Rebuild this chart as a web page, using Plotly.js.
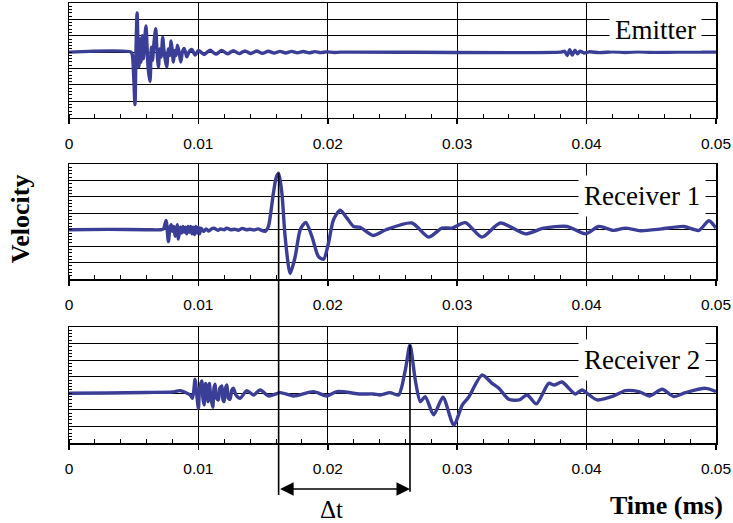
<!DOCTYPE html>
<html>
<head>
<meta charset="utf-8">
<script src="https://cdn.plot.ly/plotly-3.0.1.min.js"></script>
<style>html,body{margin:0;padding:0;background:#fff;}#chart{width:733px;height:523px;}</style>
</head>
<body>
<div id="chart"></div>
<script>
// ---- data (time in ms, velocity in arbitrary units) ----
var tickVals = [0, 0.01, 0.02, 0.03, 0.04, 0.05];
var tickText = ['0', '0.01', '0.02', '0.03', '0.04', '0.05'];
var panelNames = ['Emitter', 'Receiver 1', 'Receiver 2'];

var emitT = [0, 0.0048, 0.0049, 0.0050, 0.0051, 0.00518, 0.00526, 0.00534, 0.00541, 0.00549, 0.00557, 0.00566, 0.00576, 0.00586, 0.00595, 0.00604, 0.00612, 0.00626, 0.00636, 0.00645, 0.00657, 0.0067, 0.0068, 0.00691, 0.00702, 0.00712, 0.00724, 0.00734, 0.00745, 0.00755, 0.00768, 0.00779, 0.00789, 0.00798, 0.00807, 0.00818, 0.00828, 0.00838, 0.00851, 0.00864, 0.00876, 0.00889, 0.009, 0.0091, 0.0093, 0.00949, 0.00975, 0.01,
  0.01045, 0.0109, 0.01135, 0.0118, 0.01225, 0.0127, 0.01315, 0.0136, 0.01405, 0.0145, 0.01495, 0.0154, 0.01585, 0.0163, 0.01675, 0.0172, 0.01765, 0.0181, 0.01855, 0.019, 0.01945, 0.0199, 0.0205, 0.021,
  0.038, 0.0383, 0.0385, 0.0387, 0.0389, 0.0391, 0.0393, 0.0395, 0.0398, 0.0402, 0.041, 0.042, 0.043, 0.044, 0.045, 0.047, 0.05];
var emitV = [0, 0, -0.2, -1.5, -3.2, 0.2, 2.4, 0.3, -0.9, 0.8, -0.6, 1.0, -0.4, 0.9, 1.6, 0.2, -1.0, -1.8, 0.3, -0.5, 0.6, 1.43, 0.1, -0.9, 0.2, -0.3, 0.9, 0.1, -0.5, -0.9, 0.2, -0.2, 0.69, 0.1, -0.6, 0.1, -0.2, 0.43, 0.0, -0.6, 0.0, 0.22, 0.0, -0.29, 0.05, 0.16, -0.18, 0.1,
  -0.14, 0.12, -0.12, 0.1, -0.1, 0.09, -0.09, 0.08, -0.08, 0.07, -0.07, 0.06, -0.06, 0.05, -0.05, 0.05, -0.04, 0.04, -0.04, 0.03, -0.03, 0.02, -0.02, 0,
  0, 0.05, -0.2, 0.15, -0.18, 0.12, -0.1, 0.06, -0.05, 0.02, -0.03, 0.02, -0.02, 0.02, -0.01, 0, 0];

var rec1T = [0, 0.003, 0.006, 0.0071, 0.0073, 0.0075, 0.00768, 0.0078, 0.0079, 0.008, 0.0081, 0.0082, 0.0083, 0.00838, 0.00845, 0.0086, 0.0087, 0.0088, 0.0089, 0.009, 0.0091, 0.0092, 0.0093, 0.0094, 0.0095, 0.0096, 0.0097, 0.0098, 0.0099, 0.01, 0.0101, 0.0102, 0.0104, 0.0106, 0.0108, 0.011, 0.0112, 0.0115, 0.0117, 0.012, 0.0122, 0.0125, 0.0128, 0.0131, 0.0134, 0.0137, 0.014, 0.0143, 0.0146, 0.01516,
  0.01541, 0.01559, 0.0158, 0.01601, 0.0162, 0.01645, 0.0167, 0.01709, 0.01748, 0.01787, 0.0183, 0.01877, 0.01928, 0.01967, 0.02005, 0.02044, 0.02096, 0.02147, 0.02199, 0.0225, 0.0235, 0.0245,
  0.0265, 0.02779, 0.02882, 0.0296, 0.03063, 0.03192, 0.03333, 0.03527, 0.03668, 0.03849, 0.03991, 0.04094, 0.0421, 0.043, 0.04416, 0.0458, 0.04751, 0.04867, 0.04945, 0.05];
var rec1V = [0, 0.02, 0, 0, 0.05, 0.57, -0.72, 0.1, 0.3, -0.1, 0.2, -0.4, 0.1, 0.31, -0.57, 0.15, -0.2, 0.2, -0.15, 0.15, -0.25, 0.2, -0.15, 0.2, -0.25, 0.15, -0.3, 0.2, -0.2, 0.15, -0.25, 0.1, -0.1, 0.05, -0.08, 0.05, 0.1, -0.03, 0.05, 0.0, 0.1, 0.0, 0.03, -0.03, 0.08, 0.0, 0.03, -0.02, 0.05, -0.1,
  0.2, 1.02, 2.25, 3.17, 3.44, 2.25, -0.41, -2.66, -1.64, 0.0, 0.45, -0.41, -1.64, -1.8, -0.82, 0.61, 1.19, 0.72, 0.2, 0.15, -0.35, 0.0,
  0.41, -0.45, 0.1, 0.1, 0.43, -0.45, 0.41, -0.25, 0.1, 0.2, -0.25, 0.2, -0.04, 0.1, -0.06, 0.05, 0.2, -0.04, 0.55, 0.1];

var rec2T = [0, 0.003, 0.006, 0.008, 0.00859, 0.00936, 0.00955, 0.00974, 0.0099, 0.01, 0.0101, 0.01026, 0.01035, 0.01044, 0.01055, 0.01065, 0.01075, 0.01085, 0.01095, 0.01111, 0.0112, 0.01129, 0.0114, 0.01155, 0.01165, 0.01181, 0.0119, 0.01199, 0.0121, 0.0122, 0.01232, 0.01245, 0.01258, 0.01271, 0.0129, 0.01323, 0.01374, 0.01426, 0.01477, 0.01542, 0.01632, 0.01735, 0.0189, 0.01993, 0.0207, 0.0225, 0.02353,
  0.02405, 0.0248, 0.02547, 0.02599, 0.02635, 0.02676, 0.02715, 0.02753, 0.02818, 0.0289, 0.02973, 0.0304, 0.03088, 0.03192, 0.0327, 0.03322, 0.03398, 0.0348, 0.0354, 0.03612, 0.03707, 0.0375, 0.0381, 0.03913, 0.03965, 0.0402, 0.04081, 0.0421, 0.043, 0.04403, 0.04488, 0.04584, 0.04674, 0.04764, 0.04919, 0.05];
var rec2V = [0, 0.02, 0.05, 0.08, 0.16, -0.1, -0.3, 0.85, -0.3, -0.9, 0.3, 0.75, -0.3, -0.7, 0.6, 0.4, -0.5, 0.6, -0.2, -0.85, 0.3, 0.55, -0.3, -0.4, 0.3, 0.45, -0.4, -0.5, 0.3, 0.5, -0.3, -0.35, 0.2, 0.3, -0.1, -0.3, 0.16, -0.1, 0.2, -0.16, 0.04, -0.16, 0.1, -0.16, 0.1, -0.04, -0.04,
  -0.1, 0.04, -0.1, 1.4, 2.92, 0.8, -0.5, -0.2, -1.3, -0.24, -1.91, -0.7, -0.24, 1.1, 0.6, 0.3, -0.36, -0.4, -0.1, -0.64, 0.6, 0.5, 0.68, -0.04, 0.2, -0.1, -0.4, -0.16, 0.16, 0.1, -0.16, 0.24, -0.2, 0.04, 0.3, 0.1];

// arrival times (peaks) used for the delta-t marker
var peak1T = 0.0162, peak1V = 3.44;
var peak2T = 0.02635, peak2V = 2.92;

// ---- layout helpers ----
var lineColor = '#3a3e96';
var dom1 = [0.7393, 1], dom2 = [0.3727, 0.634], dom3 = [0, 0.2636];
var rng1 = [-4, 3], rng2 = [-3, 4], rng3 = [-3, 4];

function xax(anchor) {
  return {
    anchor: anchor, domain: [0, 1], range: [0, 0.05],
    tickmode: 'array', tickvals: tickVals, ticktext: tickText,
    ticks: 'outside', ticklen: 5, tickwidth: 1.5, tickcolor: '#000',
    ticklabelstandoff: 6,
    tickfont: {family: 'Liberation Sans, Arial, sans-serif', size: 15.5, color: '#000'},
    showgrid: true, gridcolor: '#000', gridwidth: 1,
    showline: true, linecolor: '#000', linewidth: 1.5, mirror: true,
    zeroline: false,
    minor: {ticks: 'inside', dtick: 0.002, tick0: 0, ticklen: 4, tickwidth: 1, tickcolor: '#000', showgrid: false}
  };
}
function yax(anchor, dom, rng) {
  return {
    anchor: anchor, domain: dom, range: rng, dtick: 1,
    showticklabels: false, ticks: 'inside', ticklen: 3, tickcolor: '#000',
    showgrid: true, gridcolor: '#000', gridwidth: 1,
    showline: true, linecolor: '#000', linewidth: 1.5, mirror: true,
    zeroline: false,
    minor: {ticks: 'inside', dtick: 0.2, ticklen: 3, tickwidth: 1, tickcolor: '#000', showgrid: false}
  };
}
function toPaper(v, dom, rng) {
  return dom[0] + (v - rng[0]) / (rng[1] - rng[0]) * (dom[1] - dom[0]);
}

var traces = [
  {x: emitT, y: emitV, xaxis: 'x', yaxis: 'y'},
  {x: rec1T, y: rec1V, xaxis: 'x2', yaxis: 'y2'},
  {x: rec2T, y: rec2V, xaxis: 'x3', yaxis: 'y3'}
].map(function (t) {
  t.type = 'scatter'; t.mode = 'lines'; t.hoverinfo = 'none';
  t.line = {color: lineColor, width: 3.4, shape: 'spline', smoothing: 0.7};
  return t;
});

var labelFont = {family: 'Liberation Serif, Times New Roman, serif', size: 27, color: '#000'};
var boldFont = {family: 'Liberation Serif, Times New Roman, serif', size: 26, color: '#000', weight: 'bold'};
var arrowY = -0.1045;

var layout = {
  width: 733, height: 523,
  margin: {l: 69, r: 17, t: 3, b: 80},
  paper_bgcolor: '#fff', plot_bgcolor: '#fff',
  showlegend: false,
  xaxis: xax('y'), xaxis2: xax('y2'), xaxis3: xax('y3'),
  yaxis: yax('x', dom1, rng1), yaxis2: yax('x2', dom2, rng2), yaxis3: yax('x3', dom3, rng3),
  shapes: [
    {type: 'line', xref: 'x3', yref: 'paper', x0: peak1T, x1: peak1T, y0: -0.118, y1: toPaper(peak1V, dom2, rng2), line: {color: '#000', width: 1.6}},
    {type: 'line', xref: 'x3', yref: 'paper', x0: peak2T, x1: peak2T, y0: -0.111, y1: toPaper(peak2V, dom3, rng3), line: {color: '#000', width: 1.6}}
  ],
  annotations: [
    {text: panelNames[0], xref: 'paper', yref: 'paper', x: 0.907, y: 0.9386, showarrow: false, font: labelFont, bgcolor: '#fff', borderpad: 5, xanchor: 'center', yanchor: 'middle'},
    {text: panelNames[1], xref: 'paper', yref: 'paper', x: 0.8856, y: 0.561, showarrow: false, font: labelFont, bgcolor: '#fff', borderpad: 5, xanchor: 'center', yanchor: 'middle'},
    {text: panelNames[2], xref: 'paper', yref: 'paper', x: 0.8856, y: 0.1886, showarrow: false, font: labelFont, bgcolor: '#fff', borderpad: 5, xanchor: 'center', yanchor: 'middle'},
    {text: '', xref: 'x3', yref: 'paper', x: peak2T, y: arrowY, axref: 'x3', ax: peak1T, ayref: 'pixel', ay: 0,
     showarrow: true, arrowside: 'end+start', arrowhead: 2, startarrowhead: 2, arrowsize: 1.8, startarrowsize: 1.8, arrowwidth: 1.5, arrowcolor: '#000', standoff: 0, startstandoff: 0},
    {text: '\u0394t', xref: 'paper', yref: 'paper', x: 0.405, y: -0.152, showarrow: false, font: {family: 'Liberation Serif, Times New Roman, serif', size: 25, color: '#000'}, xanchor: 'center', yanchor: 'middle'},
    {text: 'Time (ms)', xref: 'paper', yref: 'paper', x: 1.014, y: -0.141, showarrow: false, font: boldFont, xanchor: 'right', yanchor: 'middle'},
    {text: 'Velocity', xref: 'paper', yref: 'paper', x: -0.0755, y: 0.509, showarrow: false, font: boldFont, textangle: -90, xanchor: 'center', yanchor: 'middle'}
  ]
};

Plotly.newPlot('chart', traces, layout, {staticPlot: true, displayModeBar: false});
</script>
</body>
</html>
